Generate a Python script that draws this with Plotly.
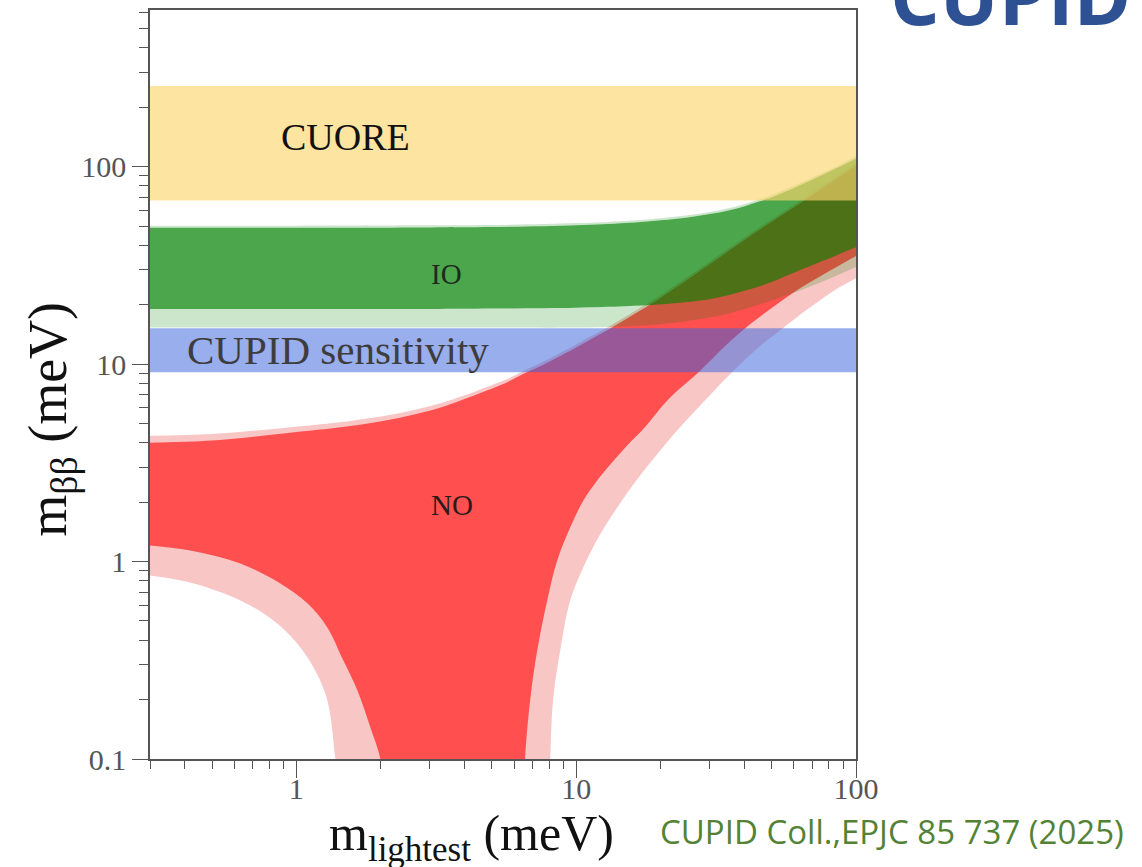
import numpy as np
import plotly.graph_objects as go

# ---------------- data (meV) ----------------
# CUORE and CUPID horizontal bands
band_x = [0.3, 100]
cuore_lo, cuore_hi = 67.3, 256
cupid_lo, cupid_hi = 9.1, 15.2

# Inverted ordering (IO)
io_x = [0.3, 1, 3, 5, 10, 15, 20, 25, 30, 35, 40, 45, 50, 60, 70, 85, 100]
io_upper = [49, 49, 49.2, 49.4, 50.5, 51.8, 53.5, 55.3, 57.5, 60, 63, 66.5, 70, 78, 86, 98, 110]
io_lower = [19, 19, 19, 19.1, 19.3, 19.6, 20, 20.6, 21.3, 22.3, 23.5, 24.7, 26, 29, 31.7, 35.5, 39]
io3_upper = [50.2, 50.2, 50.4, 50.6, 51.8, 53.1, 54.8, 56.7, 58.9, 61.5, 64.6, 68.2, 71.8, 80, 88, 100, 113]
io3_lower = [15.3, 15.3, 15.3, 15.3, 15.3, 15.5, 15.9, 16.5, 17.2, 18, 19, 20, 21, 23, 25, 28, 31]

# Normal ordering (NO)
no_up_x = [0.3, 0.5, 0.9, 1.56, 2.2, 2.7, 3.3, 3.76, 4.5, 5.67, 6.46, 7.5, 9.22, 11, 13.2,
           16.9, 20, 30, 45, 65, 100]
no_upper = [3.99, 4.1, 4.45, 4.85, 5.25, 5.6, 6.05, 6.45, 7.1, 8.1, 8.9, 9.8, 11.4, 13.1, 15.1,
            18.6, 21.6, 32, 47.7, 67, 101]
no3_upper = [4.33, 4.42, 4.75, 5.15, 5.55, 5.9, 6.35, 6.75, 7.4, 8.4, 9.2, 10.15, 11.8, 13.55, 15.6,
             19.2, 22.3, 33, 49, 69, 104]

no_lo_x = [0.3, 0.418, 0.631, 0.877, 1.095, 1.29, 1.471, 1.652, 1.838, 1.995, 2.06, 2.2,
           6.3, 6.5, 6.57, 6.85, 7.26, 7.88, 8.55, 9.52, 10.6, 12, 13.5, 15.3, 17.4, 21.5,
           27.7, 34, 41.8, 52, 63.1, 80, 100]
no_lower = [1.205, 1.137, 0.977, 0.774, 0.614, 0.464, 0.316, 0.223, 0.145, 0.101, 0.07, 0.01,
            0.01, 0.07, 0.102, 0.199, 0.355, 0.635, 1.01, 1.485, 2.03, 2.62, 3.2, 3.9, 4.7, 6.7,
            9.23, 12.3, 15.9, 20, 24.2, 29.5, 35.3]

no3_lo_x = [0.3, 0.418, 0.631, 0.828, 1.008, 1.15, 1.29, 1.378, 1.42, 1.5,
            7.8, 8.0, 8.08, 8.27, 8.77, 9.52, 10.6, 12.2, 14.0, 16.5, 19.5, 22.9, 29, 36.4,
            45, 54.8, 68, 82.8, 100]
no3_lower = [0.85, 0.783, 0.635, 0.503, 0.385, 0.292, 0.199, 0.101, 0.07, 0.01,
             0.01, 0.07, 0.102, 0.199, 0.355, 0.635, 0.933, 1.38, 1.87, 2.6, 3.5, 4.59, 6.6, 9.23,
             12.2, 15.2, 19.2, 23.4, 27.2]

x_ticks = [1, 10, 100]
x_ticklabels = ["1", "10", "100"]
y_ticks = [0.1, 1, 10, 100]
y_ticklabels = ["0.1", "1", "10", "100"]
x_minor = [0.3, 0.4, 0.5, 0.6, 0.7, 0.8, 0.9, 2, 3, 4, 5, 6, 7, 8, 9, 20, 30, 40, 50, 60, 70, 80, 90]
y_minor = [0.2, 0.3, 0.4, 0.5, 0.6, 0.7, 0.8, 0.9, 2, 3, 4, 5, 6, 7, 8, 9,
           20, 30, 40, 50, 60, 70, 80, 90, 200, 300, 400, 500, 600]

# ---------------- styles ----------------
PINK = "#F9C6C6"
RED = "#FF4F4F"
GREEN_DARK = "rgba(0,128,0,0.70)"
GREEN_LIGHT = "rgba(0,128,0,0.20)"
YELLOW = "rgba(252,214,109,0.65)"
BLUE = "rgba(60,100,220,0.52)"
SERIF = "Liberation Serif"

fig = go.Figure()

def line(x, y, fill=None, color=None, shape="spline"):
    fig.add_trace(go.Scatter(
        x=x, y=y, mode="lines", line=dict(width=0, shape=shape, smoothing=1.0),
        fill=fill if fill else "none", fillcolor=color,
        hoverinfo="skip", showlegend=False))

# NO 3 sigma (pink), NO 2 sigma (red)
line(no3_lo_x, no3_lower)
line(no_up_x, no3_upper, "tonexty", PINK)
line(no_lo_x, no_lower)
line(no_up_x, no_upper, "tonexty", RED)

# IO bands
line(io_x, io3_lower)
line(io_x, io_lower, "tonexty", GREEN_LIGHT)
line(io_x, io_upper, "tonexty", GREEN_DARK)
line(io_x, io3_upper, "tonexty", GREEN_LIGHT)

# CUORE band
line(band_x, [cuore_lo, cuore_lo], shape="linear")
line(band_x, [cuore_hi, cuore_hi], "tonexty", YELLOW, shape="linear")
# CUPID sensitivity band
line(band_x, [cupid_lo, cupid_lo], shape="linear")
line(band_x, [cupid_hi, cupid_hi], "tonexty", BLUE, shape="linear")

axis_common = dict(
    type="log", showgrid=False, zeroline=False,
    showline=True, linecolor="#555555", linewidth=1.5, mirror=True,
    ticks="outside", tickcolor="#555555", tickwidth=1.3,
    tickfont=dict(family=SERIF, size=30, color="#555555"),
)
fig.update_xaxes(**axis_common, range=[np.log10(0.3), 2], tickvals=x_ticks, ticktext=x_ticklabels,
                 ticklen=17, ticklabelstandoff=-15,
                 minor=dict(tickvals=x_minor, ticks="outside", ticklen=8, tickcolor="#555555",
                            tickwidth=1.3, showgrid=False))
fig.update_yaxes(**axis_common, range=[-1, 2.793], tickvals=y_ticks, ticktext=y_ticklabels,
                 ticklen=16,
                 minor=dict(tickvals=y_minor, ticks="outside", ticklen=9, tickcolor="#555555",
                            tickwidth=1.3, showgrid=False))

ann = []
def txt(text, x, y, size, color, xref="x", yref="y", family=SERIF, angle=0, xanchor="center",
        yanchor="middle"):
    ann.append(dict(text=text, x=x, y=y, xref=xref, yref=yref, showarrow=False,
                    font=dict(family=family, size=size, color=color), textangle=angle,
                    xanchor=xanchor, yanchor=yanchor))

txt("CUORE", np.log10(1.496), np.log10(142), 38, "#111111")
txt("CUPID sensitivity", np.log10(1.41), np.log10(11.75), 41, "#3d3d3d")
txt("IO", np.log10(3.43), np.log10(28.6), 29, "#1e2a1e")
txt("NO", np.log10(3.61), np.log10(1.93), 29, "#2a1a1a")
txt("m<sub>ββ</sub> (meV)", -0.139, 0.454, 54, "#111111", "paper", "paper", angle=-90)
txt("m<sub>lightest</sub> (meV)", 0.4547, -0.104, 50, "#111111", "paper", "paper")
txt("CUPID Coll.,EPJC 85 737 (2025)", 0.7195, -0.0972, 33, "#548235", "paper", "paper",
    family="Open Sans", xanchor="left")
txt("<b>CUPID</b>", 1.2195, 1.0196, 78, "#2D5193", "paper", "paper", family="Open Sans")

fig.update_layout(
    width=1142, height=867,
    margin=dict(l=150, r=286, t=8, b=108),
    plot_bgcolor="white", paper_bgcolor="white",
    annotations=ann, showlegend=False,
)

fig.write_html("out.html")
